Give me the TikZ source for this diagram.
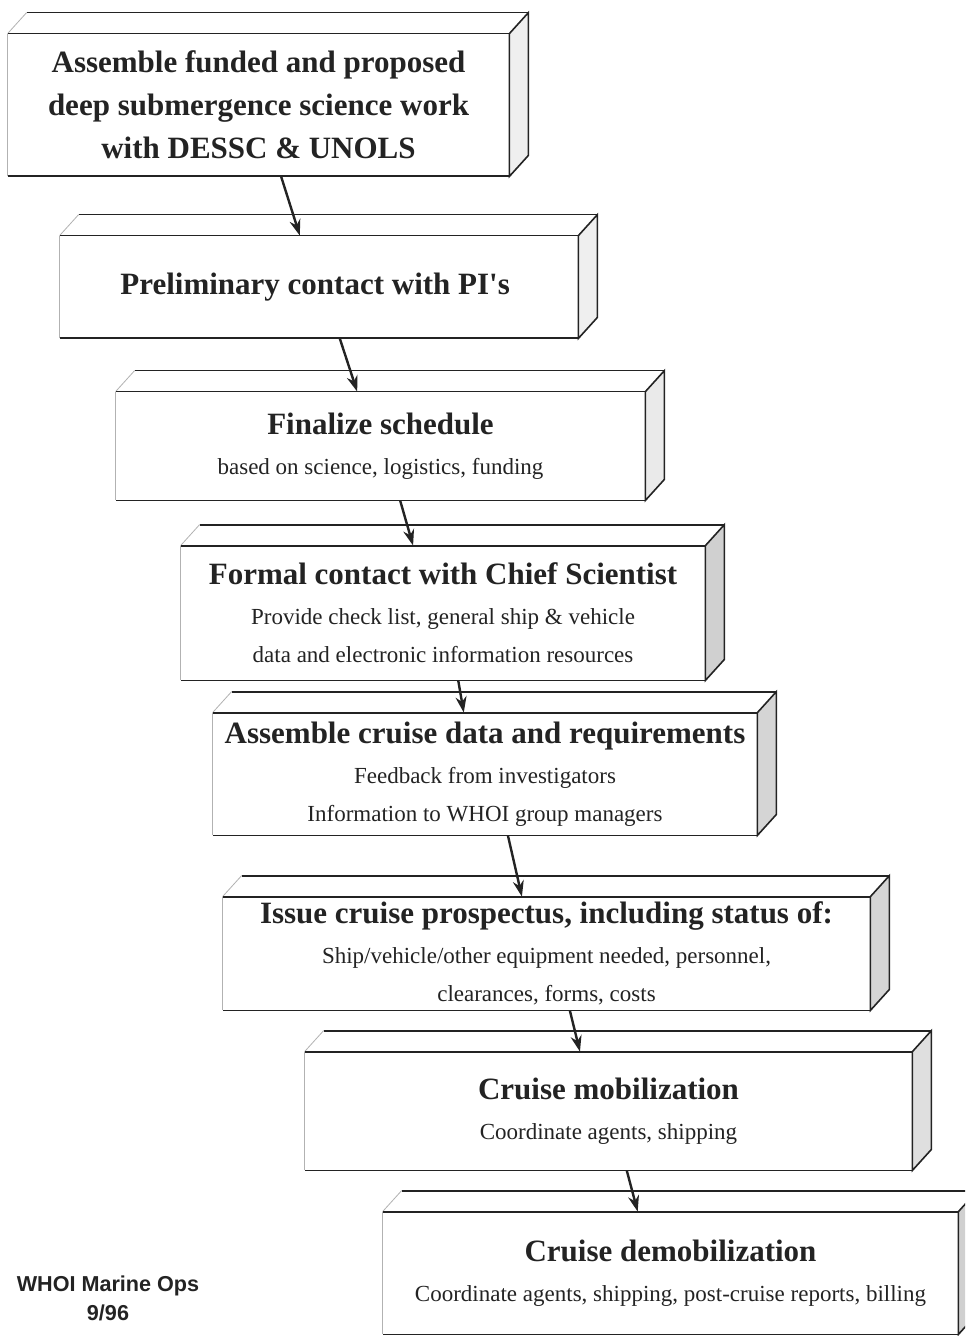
\documentclass[tikz,border=0pt]{standalone}
\usepackage{fontspec}
\setmainfont{Liberation Serif}
\setsansfont{Liberation Sans}
\usetikzlibrary{arrows.meta, positioning, calc}
\definecolor{sidegray}{RGB}{150, 150, 150}
\definecolor{inkgray}{RGB}{35, 35, 35}

\begin{document}
\begin{tikzpicture}[x=0.5pt, y=-0.5pt]
    \tikzset{
        stepbox/.style={fill=white, inner sep=0pt, align=center, text=inkgray,
                        font=\fontsize{11.5}{19}\selectfont},
        bigtext/.style={font=\fontsize{15.5}{21.5}\selectfont\bfseries},
        flow/.style={-{Stealth[length=8pt, width=5.5pt]}, line width=1.2pt, inkgray},
    }
    \clip (0,0) rectangle (965,1336);
    \fill[white] (0,0) rectangle (965,1336);

    % front faces of the steps
    \node[stepbox, bigtext, minimum width=250.5pt, minimum height=71pt] (b1) at (258.5,105) {
        Assemble funded and proposed\\
        deep submergence science work\\
        with DESSC \& UNOLS
    };
    \node[stepbox, bigtext, minimum width=259pt, minimum height=51pt] (b2) at (319,287) {
        Preliminary contact with PI\textquotesingle s
    };
    \node[stepbox, minimum width=264.5pt, minimum height=54pt] (b3) at (380.5,446) {
        {\fontsize{15.5}{20}\selectfont\bfseries Finalize schedule}\\[1pt]
        based on science, logistics, funding
    };
    \node[stepbox, minimum width=262pt, minimum height=67pt] (b4) at (443,613) {
        {\fontsize{15.5}{20}\selectfont\bfseries Formal contact with Chief Scientist}\\[1pt]
        Provide check list, general ship \& vehicle\\
        data and electronic information resources
    };
    \node[stepbox, minimum width=272pt, minimum height=61pt] (b5) at (485,774) {
        {\fontsize{15.5}{20}\selectfont\bfseries Assemble cruise data and requirements}\\[1pt]
        Feedback from investigators\\
        Information to WHOI group managers
    };
    \node[stepbox, minimum width=323.5pt, minimum height=56.5pt] (b6) at (546.5,953.5) {
        {\fontsize{15.5}{20}\selectfont\bfseries Issue cruise prospectus, including status of:}\\[1pt]
        Ship/vehicle/other equipment needed, personnel,\\
        clearances, forms, costs
    };
    \node[stepbox, minimum width=303.5pt, minimum height=59pt] (b7) at (608.5,1111) {
        {\fontsize{15.5}{20}\selectfont\bfseries Cruise mobilization}\\[1pt]
        Coordinate agents, shipping
    };
    \node[stepbox, minimum width=287.5pt, minimum height=61pt] (b8) at (670.5,1273) {
        {\fontsize{15.5}{20}\selectfont\bfseries Cruise demobilization}\\[1pt]
        Coordinate agents, shipping, post-cruise reports, billing
    };

    % top and side faces
    \foreach \b/\shade in {b1/15,b2/15,b3/20,b4/45,b5/40,b6/40,b7/30,b8/45} {
        \filldraw[fill=sidegray!\shade, draw=inkgray, line width=0.8pt]
            (\b.north east) -- ++(19,-21) -- ($(\b.south east)+(19,-21)$) -- (\b.south east) -- cycle;
        \draw[inkgray, line width=0.9pt]
            ($(\b.north west)+(19,-21)$) -- ($(\b.north east)+(19,-21)$);
        \draw[gray!60, line width=0.4pt] (\b.north west) -- ++(19,-21);
        \draw[inkgray, line width=0.9pt]
            (\b.north west) -- (\b.north east) -- (\b.south east) -- (\b.south west);
        \draw[gray!60, line width=0.4pt] (\b.south west) -- (\b.north west);
    }

    % arrows between steps
    \draw[flow] ($(b1.south west)!0.545!(b1.south east)$) -- ($(b2.north west)!0.463!(b2.north east)$);
    \draw[flow] ($(b2.south west)!0.54!(b2.south east)$) -- ($(b3.north west)!0.456!(b3.north east)$);
    \draw[flow] ($(b3.south west)!0.537!(b3.south east)$) -- ($(b4.north west)!0.443!(b4.north east)$);
    \draw[flow] ($(b4.south west)!0.529!(b4.south east)$) -- ($(b5.north west)!0.461!(b5.north east)$);
    \draw[flow] ($(b5.south west)!0.542!(b5.south east)$) -- ($(b6.north west)!0.462!(b6.north east)$);
    \draw[flow] ($(b6.south west)!0.536!(b6.south east)$) -- ($(b7.north west)!0.453!(b7.north east)$);
    \draw[flow] ($(b7.south west)!0.53!(b7.south east)$) -- ($(b8.north west)!0.443!(b8.north east)$);

    \node[font=\sffamily\bfseries\fontsize{10.8}{14.5}\selectfont, align=center, text=inkgray]
        (ops) at (108,1298) {WHOI Marine Ops\\9/96};
\end{tikzpicture}
\end{document}
